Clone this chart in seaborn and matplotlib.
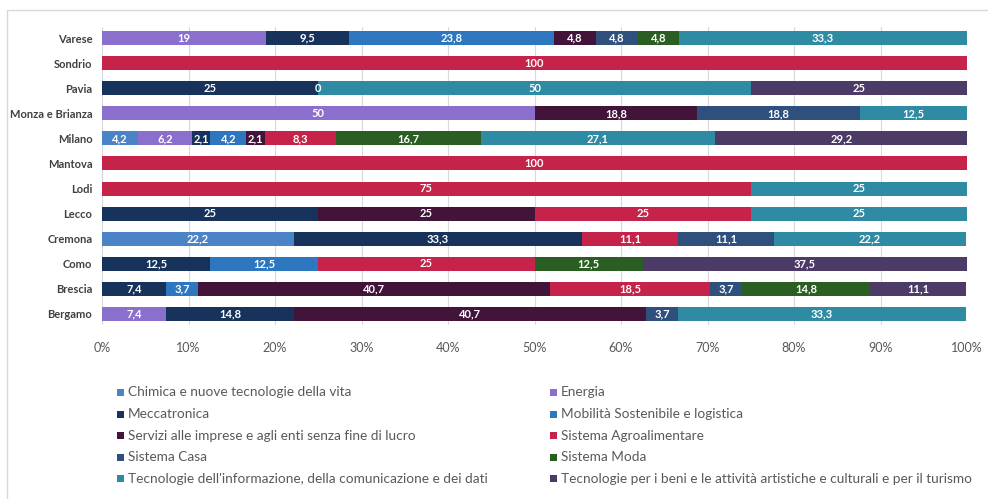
import numpy as np
import pandas as pd
import matplotlib
matplotlib.use("Agg")
import matplotlib.pyplot as plt
from matplotlib.lines import Line2D
from matplotlib.patches import Rectangle
import seaborn as sns

provinces = ["Varese", "Sondrio", "Pavia", "Monza e Brianza", "Milano", "Mantova",
             "Lodi", "Lecco", "Cremona", "Como", "Brescia", "Bergamo"]

sectors = ["Chimica e nuove tecnologie della vita",
           "Energia",
           "Meccatronica",
           "Mobilità Sostenibile e logistica",
           "Servizi alle imprese e agli enti senza fine di lucro",
           "Sistema Agroalimentare",
           "Sistema Casa",
           "Sistema Moda",
           "Tecnologie dell'informazione, della comunicazione e dei dati",
           "Tecnologie per i beni e le attività artistiche e culturali e per il turismo"]

colors = ["#4a84c6", "#8a6fcd", "#17335b", "#2c77bf", "#42143a",
          "#c6234a", "#2f4f7d", "#2b5e22", "#2e8ba3", "#4c3b67"]

# values per sector (order of provinces above)
chimica      = [0, 0, 0, 0, 4.2, 0, 0, 0, 22.2, 0, 0, 0]
energia      = [19, 0, 0, 50, 6.2, 0, 0, 0, 0, 0, 0, 7.4]
meccatronica = [9.5, 0, 25, 0, 2.1, 0, 0, 25, 33.3, 12.5, 7.4, 14.8]
mobilita     = [23.8, 0, 0, 0, 4.2, 0, 0, 0, 0, 12.5, 3.7, 0]
servizi      = [4.8, 0, 0, 18.8, 2.1, 0, 0, 25, 0, 0, 40.7, 40.7]
agro         = [0, 100, 0, 0, 8.3, 100, 75, 25, 11.1, 25, 18.5, 0]
casa         = [4.8, 0, 0, 18.8, 0, 0, 0, 0, 11.1, 0, 3.7, 3.7]
moda         = [4.8, 0, 0, 0, 16.7, 0, 0, 0, 0, 12.5, 14.8, 0]
tic          = [33.3, 0, 50, 12.5, 27.1, 0, 25, 25, 22.2, 0, 0, 33.3]
beni         = [0, 0, 25, 0, 29.2, 0, 0, 0, 0, 37.5, 11.1, 0]

series = [chimica, energia, meccatronica, mobilita, servizi,
          agro, casa, moda, tic, beni]

# labels that are shown even when the value is 0 (Pavia, Mobilità)
zero_labels = {(2, 3)}

xticks = [0, 10, 20, 30, 40, 50, 60, 70, 80, 90, 100]

rows = []
for s, vals in zip(sectors, series):
    for i, (p, v) in enumerate(zip(provinces, vals)):
        rows.append({"provincia": p, "pos": i, "settore": s, "valore": v})
df = pd.DataFrame(rows)

sns.set_theme(style="white")
FONT = ["Lato", "DejaVu Sans"]
plt.rcParams["font.family"] = FONT

fig = plt.figure(figsize=(9.88, 4.99), dpi=100)
ax = fig.add_axes([102 / 988, 1 - 325 / 499, 865 / 988, 298 / 499])

palette = dict(zip(sectors, colors))
sns.histplot(data=df, y="pos", hue="settore", weights="valore",
             multiple="stack", discrete=True, shrink=0.56,
             hue_order=sectors[::-1], palette=palette, alpha=1,
             linewidth=0, edgecolor="none", legend=False, ax=ax)

ax.set_xlim(0, 100)
ax.set_ylim(len(provinces) - 0.55, -0.45)
ax.set_xticks(xticks)
ax.set_xticklabels([f"{t}%" for t in xticks], color="#595959", fontsize=9)
ax.set_yticks(range(len(provinces)))
ax.set_yticklabels(provinces, color="#404040", fontsize=8, fontweight="bold")
ax.tick_params(axis="both", length=0, pad=7)
ax.tick_params(axis="x", pad=12)
ax.set_xlabel("")
ax.set_ylabel("")
for sp in ax.spines.values():
    sp.set_visible(False)
ax.grid(axis="x", color="#d9d9d9", linewidth=0.8)
ax.set_axisbelow(True)

def fmt(v):
    if float(v).is_integer():
        return str(int(v))
    return f"{v:.1f}".replace(".", ",")

# value labels
for i in range(len(provinces)):
    cum = 0
    for j, vals in enumerate(series):
        v = vals[i]
        if v > 0 or (i, j) in zero_labels:
            ax.text(cum + v / 2, i, fmt(v), ha="center", va="center",
                    color="white", fontsize=8, fontweight="bold")
        cum += v

# legend (manual, row-major in two columns)
col_x = [117 / 988, 550 / 988]
row_y0 = 392.5
row_dy = 21.6
for k, (s, c) in enumerate(zip(sectors, colors)):
    col = k % 2
    row = k // 2
    yc = 1 - (row_y0 + row * row_dy) / 499
    fig.add_artist(Rectangle((col_x[col], yc - 3.5 / 499), 7 / 988, 7 / 499,
                             transform=fig.transFigure, facecolor=c,
                             edgecolor="none"))
    fig.text(col_x[col] + 11 / 988, yc, s, ha="left", va="center",
             color="#595959", fontsize=9.8)

# outer frame lines
fig.add_artist(Line2D([7 / 988, 1], [1 - 10 / 499, 1 - 10 / 499],
                      transform=fig.transFigure, color="#d9d9d9", linewidth=1))
fig.add_artist(Line2D([7 / 988, 7 / 988], [0, 1 - 10 / 499],
                      transform=fig.transFigure, color="#d9d9d9", linewidth=1))

fig.savefig("out.png", dpi=100)
